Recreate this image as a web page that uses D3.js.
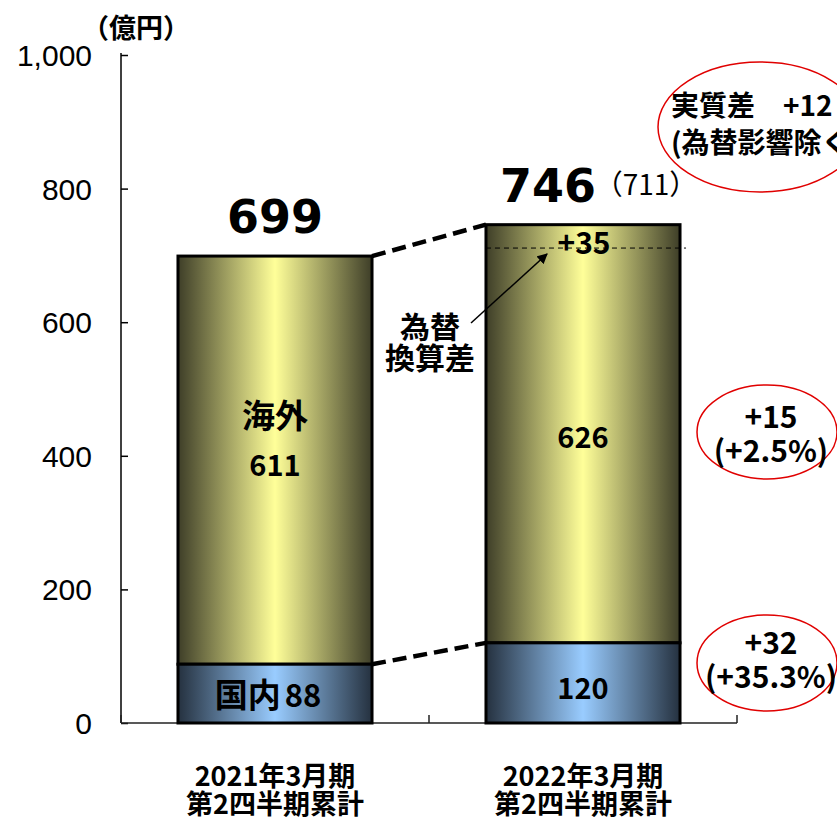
<!DOCTYPE html>
<html>
<head>
<meta charset="utf-8">
<script src="https://cdn.jsdelivr.net/npm/d3@7/dist/d3.min.js"></script>
<style>
  html, body { margin: 0; padding: 0; background: #fff; }
  svg { display: block; }
</style>
</head>
<body>
<svg id="chart" width="837" height="819"></svg>
<script>
// Net sales, first-half cumulative (units: 100 million yen)
const categories = ["2021年3月期", "2022年3月期"];
const categorySub = ["第2四半期累計", "第2四半期累計"];
const domestic = [88, 120];
const overseas = [611, 626];
const totalExFx = [null, 711];       // total excluding FX translation effect
const yTicks = [0, 200, 400, 600, 800, 1000];
const unitLabel = "（億円）";
const fxLabel = ["為替", "換算差"];
const realDiffLines = ["実質差　+12", "(為替影響除く)"];
const overseasDiffLines = ["+15", "(+2.5%)"];
const domesticDiffLines = ["+32", "(+35.3%)"];

const totals = domestic.map((d, i) => d + overseas[i]);

const svg = d3.select("#chart");
const jp = "'Noto Sans CJK JP', 'Noto Sans', sans-serif";
const latin = "'Liberation Sans', Arial, sans-serif";
const heavy = "'DejaVu Sans', 'Liberation Sans', sans-serif";

const x = d3.scaleBand().domain(categories).range([121, 737]).paddingInner(0.37).paddingOuter(0.185);
const y = d3.scaleLinear().domain([0, 1000]).range([723, 55]);

// gradients
const defs = svg.append("defs");
function hGrad(id, edge, mid) {
  const g = defs.append("linearGradient").attr("id", id).attr("x1", 0).attr("x2", 1).attr("y1", 0).attr("y2", 0);
  g.append("stop").attr("offset", "0%").attr("stop-color", edge);
  g.append("stop").attr("offset", "50%").attr("stop-color", mid);
  g.append("stop").attr("offset", "100%").attr("stop-color", edge);
}
hGrad("gOver", "#3e3e28", "#ffff99");
hGrad("gDom", "#25313f", "#99ccff");
defs.append("marker").attr("id", "arrow").attr("viewBox", "0 0 10 10")
  .attr("refX", 9).attr("refY", 5).attr("markerWidth", 7).attr("markerHeight", 7)
  .attr("orient", "auto").append("path").attr("d", "M0,0 L10,5 L0,10 z").attr("fill", "#000");

// y axis
const yAxis = d3.axisRight(y).tickValues(yTicks).tickSize(7).tickFormat("");
const gy = svg.append("g").attr("transform", "translate(121,0)").call(yAxis);
gy.select(".domain").attr("stroke", "#000").attr("stroke-width", 1.5).attr("d", `M0,${y(1000) - 2}V${y(0)}`);
gy.selectAll(".tick line").attr("stroke", "#000").attr("stroke-width", 1.5);
svg.append("g").selectAll("text").data(yTicks).join("text")
  .attr("x", 92).attr("y", d => y(d) + 11)
  .attr("text-anchor", "end").attr("font-family", latin).attr("font-size", 30)
  .text(d => d3.format(",")(d));
svg.append("text").attr("x", 82).attr("y", 38).attr("font-family", jp).attr("font-weight", 700)
  .attr("font-size", 27).text(unitLabel);

// x baseline with boundary ticks
const xLine = svg.append("g");
xLine.append("line").attr("x1", 121).attr("x2", 737).attr("y1", y(0)).attr("y2", y(0))
  .attr("stroke", "#222").attr("stroke-width", 1.5);
[121, (x(categories[0]) + x.bandwidth() + x(categories[1])) / 2, 737].forEach(px => {
  xLine.append("line").attr("x1", px).attr("x2", px).attr("y1", y(0)).attr("y2", y(0) - 8)
    .attr("stroke", "#222").attr("stroke-width", 1.5);
});

// connector dashed lines between bars
const bw = x.bandwidth();
const conn = [[totals[0], totals[1]], [domestic[0], domestic[1]]];
svg.append("g").selectAll("line").data(conn).join("line")
  .attr("x1", x(categories[0]) + bw).attr("x2", x(categories[1]))
  .attr("y1", d => y(d[0])).attr("y2", d => y(d[1]))
  .attr("stroke", "#000").attr("stroke-width", 4.5).attr("stroke-dasharray", "14,7");

// bars
const bars = svg.append("g");
categories.forEach((c, i) => {
  bars.append("rect").attr("x", x(c)).attr("width", bw)
    .attr("y", y(totals[i])).attr("height", y(domestic[i]) - y(totals[i]))
    .attr("fill", "url(#gOver)").attr("stroke", "#000").attr("stroke-width", 3);
  bars.append("rect").attr("x", x(c)).attr("width", bw)
    .attr("y", y(domestic[i])).attr("height", y(0) - y(domestic[i]))
    .attr("fill", "url(#gDom)").attr("stroke", "#000").attr("stroke-width", 3);
});

// FX-excluded level
const c1 = categories[1];
svg.append("line").attr("x1", x(c1)).attr("x2", x(c1) + bw + 6)
  .attr("y1", y(totalExFx[1])).attr("y2", y(totalExFx[1]))
  .attr("stroke", "#000").attr("stroke-width", 1).attr("stroke-dasharray", "5,4");

const cx0 = x(categories[0]) + bw / 2;
const cx1 = x(c1) + bw / 2;

// labels inside bars
const lab = svg.append("g").attr("font-family", jp).attr("font-weight", 700).attr("text-anchor", "middle");
lab.append("text").attr("x", cx0).attr("y", 428).attr("font-size", 33).text("海外");
lab.append("text").attr("x", cx0).attr("y", 476).attr("font-size", 29).text(overseas[0]);
lab.append("text").attr("x", cx1).attr("y", 448).attr("font-size", 29).text(overseas[1]);
lab.append("text").attr("x", cx1).attr("y", 699).attr("font-size", 29).text(domestic[1]);
const dom0 = lab.append("text").attr("x", cx0 - 7).attr("y", 707).attr("font-size", 33);
dom0.append("tspan").text("国内");
dom0.append("tspan").attr("font-size", 31).attr("dx", 4).text(domestic[0]);
lab.append("text").attr("x", cx1 + 1).attr("y", 254).attr("font-size", 30)
  .text("+" + (totals[1] - totalExFx[1]));

// totals
svg.append("text").attr("x", cx0).attr("y", 233).attr("text-anchor", "middle")
  .attr("font-family", heavy).attr("font-weight", 700).attr("font-size", 46).text(totals[0]);
svg.append("text").attr("x", 548).attr("y", 202).attr("text-anchor", "middle")
  .attr("font-family", heavy).attr("font-weight", 700).attr("font-size", 46).text(totals[1]);
svg.append("text").attr("x", 646).attr("y", 195).attr("text-anchor", "middle")
  .attr("font-family", jp).attr("font-size", 28).text("（" + totalExFx[1] + "）");

// FX translation annotation
lab.append("text").attr("x", 430).attr("y", 338).attr("font-size", 30).text(fxLabel[0]);
lab.append("text").attr("x", 430).attr("y", 369).attr("font-size", 30).text(fxLabel[1]);
svg.append("line").attr("x1", 471).attr("y1", 323).attr("x2", 547).attr("y2", 254)
  .attr("stroke", "#000").attr("stroke-width", 1.5).attr("marker-end", "url(#arrow)");

// red ellipse call-outs
const callouts = [
  { cx: 760, cy: 127, rx: 102, ry: 65, lines: realDiffLines, x: 671, anchor: "start", ys: [116, 153], size: 28 },
  { cx: 767, cy: 432, rx: 70, ry: 47, lines: overseasDiffLines, x: 771, anchor: "middle", ys: [428, 462], size: 30 },
  { cx: 767, cy: 663, rx: 70, ry: 48, lines: domesticDiffLines, x: 771, anchor: "middle", ys: [654, 688], size: 30 }
];
const co = svg.append("g");
callouts.forEach(d => {
  co.append("ellipse").attr("cx", d.cx).attr("cy", d.cy).attr("rx", d.rx).attr("ry", d.ry)
    .attr("fill", "none").attr("stroke", "#e00000").attr("stroke-width", 1.5);
  d.lines.forEach((t, k) => {
    co.append("text").attr("x", d.x).attr("y", d.ys[k]).attr("text-anchor", d.anchor)
      .attr("font-family", jp).attr("font-weight", 700).attr("font-size", d.size).text(t);
  });
});

// category labels
const xl = svg.append("g").attr("font-family", jp).attr("font-weight", 700).attr("font-size", 27).attr("text-anchor", "middle");
categories.forEach((c, i) => {
  const cx = x(c) + bw / 2;
  xl.append("text").attr("x", cx).attr("y", 786).text(c);
  xl.append("text").attr("x", cx).attr("y", 814).text(categorySub[i]);
});
</script>
</body>
</html>
